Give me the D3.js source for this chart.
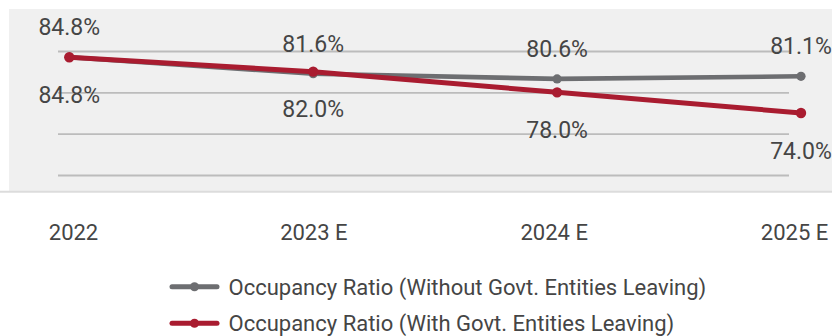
<!DOCTYPE html>
<html>
<head>
<meta charset="utf-8">
<script src="https://cdn.jsdelivr.net/npm/d3@7"></script>
<style>
  html, body { margin: 0; padding: 0; background: #ffffff; }
  svg { display: block; font-family: Roboto, "Open Sans", sans-serif; }
</style>
</head>
<body>
<svg id="chart" width="832" height="336"></svg>
<script>
// Occupancy ratio outlook, with and without government entities leaving
const categories = ["2022", "2023 E", "2024 E", "2025 E"];
const withoutGovtLeaving = [84.8, 81.6, 80.6, 81.1];
const withGovtLeaving = [84.8, 82.0, 78.0, 74.0];
const gridValues = [62, 70, 78, 86];
const seriesNames = [
  "Occupancy Ratio (Without Govt. Entities Leaving)",
  "Occupancy Ratio (With Govt. Entities Leaving)"
];
const seriesColors = ["#6d6e71", "#a91c30"];

const W = 832, H = 336;
const svg = d3.select("#chart");

// plot panel
const panel = { x0: 9, y0: 9, x1: W, y1: 191 };
svg.append("rect")
  .attr("x", panel.x0).attr("y", panel.y0)
  .attr("width", panel.x1 - panel.x0).attr("height", panel.y1 - panel.y0)
  .attr("fill", "#f0f0f0");
svg.append("line")
  .attr("x1", 0).attr("x2", W)
  .attr("y1", panel.y1 + 0.8).attr("y2", panel.y1 + 0.8)
  .attr("stroke", "#dcdcdc").attr("stroke-width", 2);

// scales
const x = d3.scalePoint().domain(categories).range([69.3, 801]);
const xLabel = d3.scalePoint().domain(categories).range([73, 794]);
const y = d3.scaleLinear().domain([62, 86]).range([175, 51]);
const gridLeft = 58, gridRight = 789;

// horizontal gridlines
svg.append("g")
  .attr("transform", `translate(${gridLeft},0)`)
  .call(d3.axisLeft(y).tickValues(gridValues).tickSize(-(gridRight - gridLeft)).tickFormat(""))
  .call(g => g.select(".domain").remove())
  .call(g => g.selectAll(".tick line").attr("stroke", "#bcbcbc").attr("stroke-width", 1.8));

// category axis
svg.append("g")
  .attr("transform", "translate(0,224)")
  .call(d3.axisBottom(xLabel).tickSize(0).tickPadding(0))
  .call(g => g.select(".domain").remove())
  .call(g => g.selectAll(".tick text")
    .attr("font-family", "Roboto, sans-serif")
    .attr("font-size", 22)
    .attr("fill", "#454545")
    .attr("dy", "0.71em"));

// series
const series = [
  { name: seriesNames[0], values: withoutGovtLeaving, color: seriesColors[0], width: 4.6, r: 4.6, labelPos: "above" },
  { name: seriesNames[1], values: withGovtLeaving, color: seriesColors[1], width: 5, r: 5.2, labelPos: "below" }
];

const line = d3.line()
  .x((d, i) => x(categories[i]))
  .y(d => y(d));

series.forEach(s => {
  const g = svg.append("g");
  g.append("path")
    .datum(s.values)
    .attr("d", line)
    .attr("fill", "none")
    .attr("stroke", s.color)
    .attr("stroke-width", s.width)
    .attr("stroke-linejoin", "round");
  g.selectAll("circle")
    .data(s.values)
    .join("circle")
    .attr("cx", (d, i) => x(categories[i]))
    .attr("cy", d => y(d))
    .attr("r", s.r)
    .attr("fill", s.color);
});

// value labels
series.forEach(s => {
  svg.append("g").selectAll("text")
    .data(s.values)
    .join("text")
    .attr("x", (d, i) => x(categories[i]))
    .attr("y", d => s.labelPos === "above" ? y(d) - 22 : y(d) + 45.5)
    .attr("text-anchor", "middle")
    .attr("font-size", 23)
    .attr("fill", "#454545")
    .text(d => d.toFixed(1) + "%");
});

// legend
const legend = svg.append("g");
const legendRows = [286.7, 323.3];
series.forEach((s, i) => {
  const row = legend.append("g").attr("transform", `translate(0,${legendRows[i]})`);
  row.append("line")
    .attr("x1", 172).attr("x2", 217)
    .attr("stroke", s.color).attr("stroke-width", 5)
    .attr("stroke-linecap", "round");
  row.append("circle")
    .attr("cx", 194.5).attr("r", 4.5)
    .attr("fill", s.color);
  row.append("text")
    .attr("x", 228.5)
    .attr("dy", "0.36em")
    .attr("font-size", 22)
    .attr("fill", "#454545")
    .text(s.name);
});
</script>
</body>
</html>
